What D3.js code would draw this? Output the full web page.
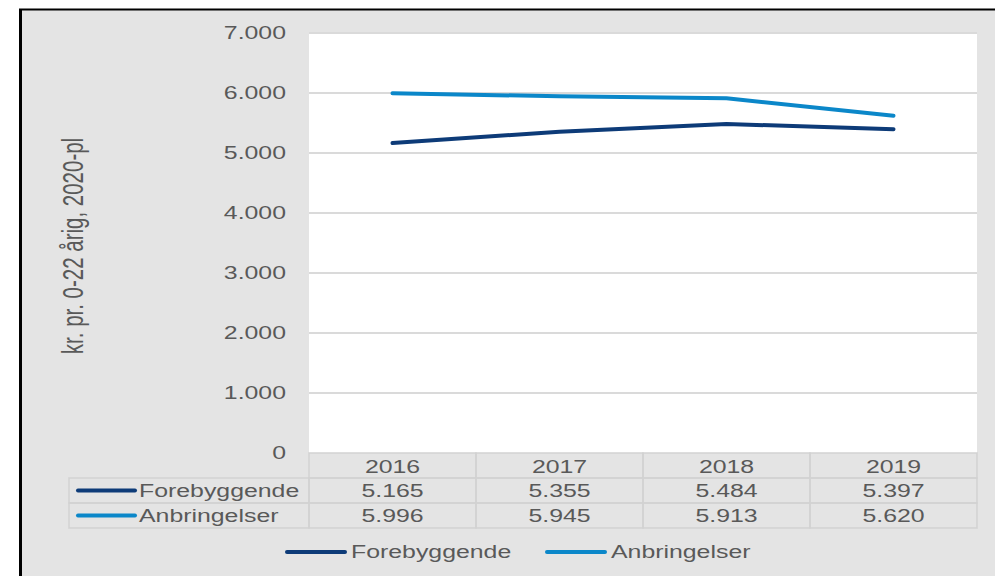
<!DOCTYPE html>
<html>
<head>
<meta charset="utf-8">
<script src="https://cdn.jsdelivr.net/npm/d3@7"></script>
<style>
  body { margin: 0; background: #fff; }
  text { font-family: "Liberation Sans", Arial, sans-serif; fill: #595959; }
</style>
</head>
<body>
<div id="chart"></div>
<script>
// data
const years = ["2016", "2017", "2018", "2019"];
const forebyggende = [5165, 5355, 5484, 5397];
const anbringelser = [5996, 5945, 5913, 5620];
const yTicks = [0, 1000, 2000, 3000, 4000, 5000, 6000, 7000];
const seriesNames = ["Forebyggende", "Anbringelser"];
const seriesColors = ["#0d3b78", "#0b87c9"];

const W = 995, H = 576;
const sx = 1.42; // the picture is stretched sideways
const fmt = (v) => d3.format(",")(v).replace(/,/g, ".");

const svg = d3.select("#chart").append("svg")
  .attr("width", W).attr("height", H);

// frame
svg.append("rect").attr("x", 20).attr("y", 10).attr("width", W).attr("height", H)
  .attr("fill", "#e4e4e4");
svg.append("line").attr("x1", 20.5).attr("x2", 20.5).attr("y1", 9).attr("y2", H)
  .attr("stroke", "#000").attr("stroke-width", 3);
svg.append("line").attr("x1", 19).attr("x2", W).attr("y1", 9.5).attr("y2", 9.5)
  .attr("stroke", "#000").attr("stroke-width", 2);

const pLeft = 309, pRight = 977, pTop = 33, pBottom = 453;
const x = d3.scaleBand().domain(years).range([pLeft, pRight]);
const y = d3.scaleLinear().domain([0, 7000]).range([pBottom, pTop]);

// plot area
svg.append("rect").attr("x", pLeft).attr("y", pTop)
  .attr("width", pRight - pLeft).attr("height", pBottom - pTop).attr("fill", "#fff");

svg.append("g").selectAll("line").data(yTicks.filter(d => d > 0)).join("line")
  .attr("x1", pLeft).attr("x2", pRight)
  .attr("y1", d => y(d)).attr("y2", d => y(d))
  .attr("stroke", "#dadada").attr("stroke-width", 2);

function label(g, tx, ty, str, anchor, size) {
  return g.append("text")
    .attr("transform", `translate(${tx},${ty}) scale(${sx},1)`)
    .attr("text-anchor", anchor || "middle")
    .attr("dy", "0.35em")
    .style("font-size", (size || 17.5) + "px")
    .text(str);
}

// y tick labels
const ay = svg.append("g");
yTicks.forEach(t => label(ay, 286, y(t), fmt(t), "end"));

// y title
svg.append("text")
  .attr("transform", `translate(73,246) scale(${sx},1) rotate(-90)`)
  .attr("text-anchor", "middle").attr("dy", "0.35em")
  .style("font-size", "20.5px")
  .text("kr. pr. 0-22 årig, 2020-pl");

// lines
const line = d3.line()
  .x((d, i) => x(years[i]) + x.bandwidth() / 2)
  .y(d => y(d));
[forebyggende, anbringelser].forEach((s, k) => {
  svg.append("path").datum(s)
    .attr("d", line)
    .attr("fill", "none")
    .attr("stroke", seriesColors[k])
    .attr("stroke-width", 4)
    .attr("stroke-linecap", "round")
    .attr("stroke-linejoin", "round");
});

// data table
const rowH = 25;
const tbl = svg.append("g");
const grid = "#d2d2d2";
const rows = [forebyggende, anbringelser];
// header cells
years.forEach(yr => {
  tbl.append("rect").attr("x", x(yr)).attr("y", pBottom)
    .attr("width", x.bandwidth()).attr("height", rowH)
    .attr("fill", "none").attr("stroke", grid).attr("stroke-width", 1.5);
  label(tbl, x(yr) + x.bandwidth() / 2, pBottom + rowH / 2 + 1, yr);
});
rows.forEach((s, k) => {
  const ry = pBottom + rowH * (k + 1);
  tbl.append("rect").attr("x", 69).attr("y", ry)
    .attr("width", pLeft - 69).attr("height", rowH)
    .attr("fill", "none").attr("stroke", grid).attr("stroke-width", 1.5);
  tbl.append("line").attr("x1", 78).attr("x2", 135)
    .attr("y1", ry + rowH / 2).attr("y2", ry + rowH / 2)
    .attr("stroke", seriesColors[k]).attr("stroke-width", 4)
    .attr("stroke-linecap", "round");
  label(tbl, 139, ry + rowH / 2, seriesNames[k], "start");
  years.forEach((yr, i) => {
    tbl.append("rect").attr("x", x(yr)).attr("y", ry)
      .attr("width", x.bandwidth()).attr("height", rowH)
      .attr("fill", "none").attr("stroke", grid).attr("stroke-width", 1.5);
    label(tbl, x(yr) + x.bandwidth() / 2, ry + rowH / 2, fmt(s[i]));
  });
});

// legend
const legX = [287, 547];
const leg = svg.append("g");
seriesNames.forEach((n, k) => {
  leg.append("line").attr("x1", legX[k]).attr("x2", legX[k] + 58)
    .attr("y1", 552).attr("y2", 552)
    .attr("stroke", seriesColors[k]).attr("stroke-width", 4)
    .attr("stroke-linecap", "round");
  label(leg, legX[k] + 64, 552, n, "start");
});
</script>
</body>
</html>
